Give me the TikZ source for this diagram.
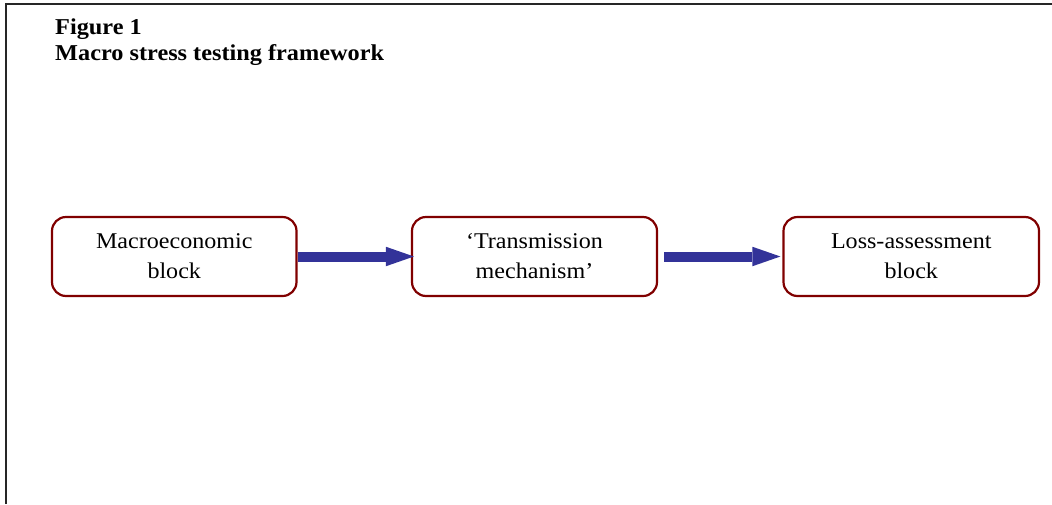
\documentclass[tikz,border=0pt]{standalone}
\usepackage{xcolor}
\usepackage{fontspec}
\setmainfont{Liberation Serif}[FakeStretch=1.07]
\usepackage{tikz}
\usetikzlibrary{arrows.meta}

\definecolor{blockred}{RGB}{128,0,0}
\definecolor{flowblue}{RGB}{51,51,153}

\begin{document}
\begin{tikzpicture}[x=1pt, y=-1pt,
  block/.style={draw=blockred, line width=2.2pt, rounded corners=14pt,
    minimum height=79pt, inner sep=0pt, align=center,
    font=\fontsize{22.5}{30}\selectfont},
  flow/.style={draw=flowblue, line width=10pt,
    -{Triangle[length=28pt, width=19.5pt, line width=0pt, fill=flowblue]}}]
\useasboundingbox (0, 0) rectangle (1052, 504);

\coordinate (FB) at (6, 504); % frame, bottom end
\coordinate (FC) at (6, 4);   % frame corner
\coordinate (FR) at (1052, 4);

% frame
\draw[line width=2pt, black!85] (FB) -- (FC) -- (FR);
%

\node[anchor=north west, inner sep=0pt, align=left,
      font=\bfseries\fontsize{22.7}{26}\selectfont] (title) at (55, 19)
  {Figure 1\\Macro stress testing framework};

% the three blocks
\node[block, minimum width=244.5pt] (macro) at (174.25, 256.5) {Macroeconomic\\block};
\node[block, minimum width=245pt]   (trans) at (534.5, 256.5)  {`Transmission\\mechanism'};
\node[block, minimum width=255.5pt] (loss)  at (911.25, 256.5) {Loss-assessment\\block};
%

\draw[flow] (macro.east) -- ([xshift=3pt]trans.west);
\draw[flow] ([xshift=6pt]trans.east) -- ([xshift=-2pt]loss.west);
\end{tikzpicture}
\end{document}
